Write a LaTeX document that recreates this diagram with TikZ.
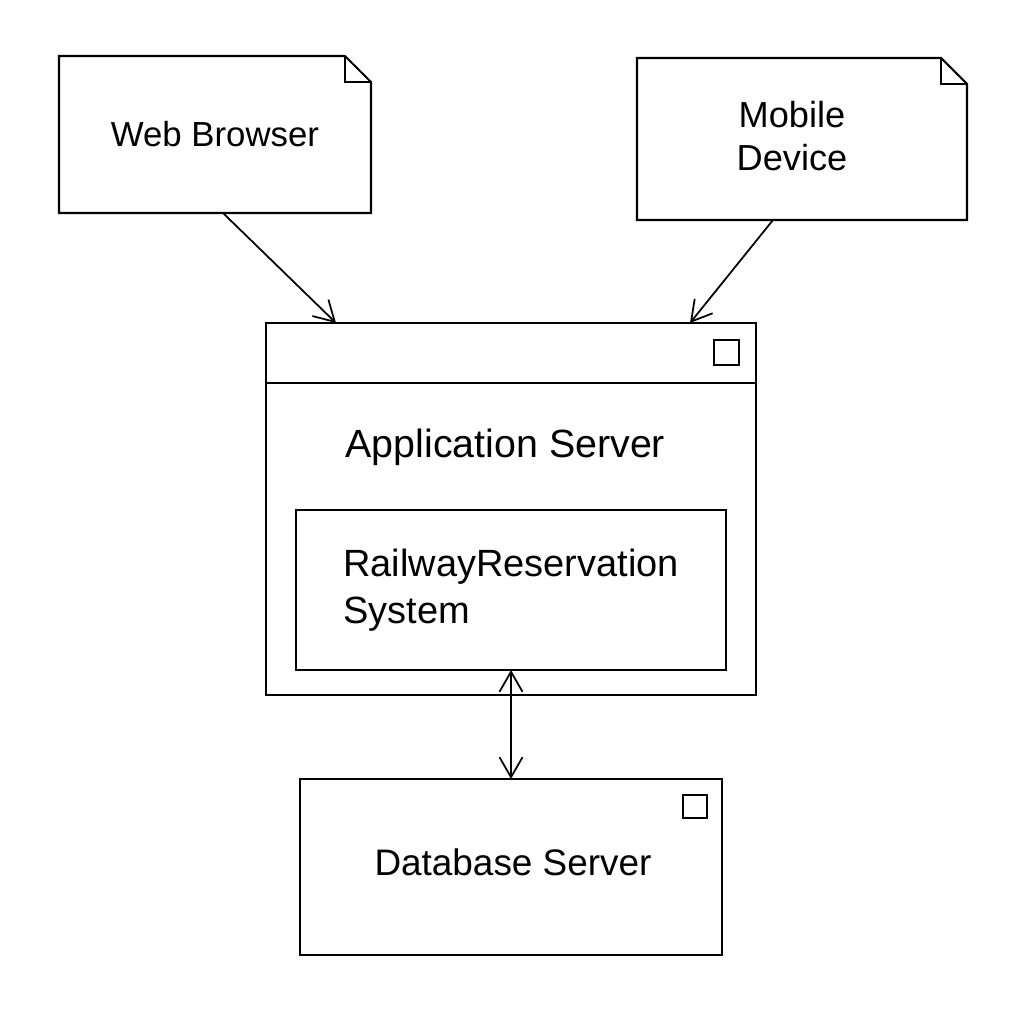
\documentclass[tikz,border=0pt]{standalone}
\usepackage{fontspec}
\setmainfont{Liberation Sans}
\usetikzlibrary{arrows.meta,positioning,calc}

\begin{document}
\begin{tikzpicture}[scale=1.0,
    box/.style={draw,line width=0.6pt,inner sep=0pt,outer sep=0pt},
    note/.style={inner sep=0pt,outer sep=0pt},
    link/.style={line width=0.5pt,-{Straight Barb[length=2.0mm,width=2.3mm]}},
    label/.style={font=\fontsize{10.3}{12}\selectfont}]
  \useasboundingbox (0.0,0.0) rectangle (10.24,10.24);

  % Web browser note
  \node[note,font=\fontsize{9.9}{12}\selectfont,minimum width=3.12cm,minimum height=1.57cm] (web) at (2.15,8.895) {Web Browser};
  \draw[line width=0.6pt] (web.south west) -- (web.north west) -- ([xshift=-0.26cm]web.north east)
       -- ([yshift=-0.26cm]web.north east) -- (web.south east) -- cycle;
  \draw[line width=0.6pt] ([xshift=-0.26cm]web.north east) |- ([yshift=-0.26cm]web.north east);

  % Mobile device note
  \node[note,minimum width=3.30cm,minimum height=1.62cm] (mobile) at (8.02,8.85) {};
  \node[align=center,font=\fontsize{10.3}{12.4}\selectfont] (mobiletext) at (7.92,8.88) {Mobile\\Device};
  \draw[line width=0.6pt] (mobile.south west) -- (mobile.north west) -- ([xshift=-0.26cm]mobile.north east)
       -- ([yshift=-0.26cm]mobile.north east) -- (mobile.south east) -- cycle;
  \draw[line width=0.6pt] ([xshift=-0.26cm]mobile.north east) |- ([yshift=-0.26cm]mobile.north east);

  % Application server
  \node[box,minimum width=4.90cm,minimum height=3.72cm] (app) at (5.11,5.15) {};
  \draw[line width=0.6pt] ([yshift=-0.60cm]app.north west) -- ([yshift=-0.60cm]app.north east); % header
  \node[box,minimum size=0.25cm] (appicon) at (7.265,6.715) {};
  \node[anchor=base west,inner xsep=0pt,font=\fontsize{11.2}{12}\selectfont] (apptitle) at (3.45,5.66) {Application Server};

  % Railway reservation component
  \node[box,line width=0.5pt,align=left,minimum width=4.30cm,minimum height=1.60cm,
        font=\fontsize{10.8}{13.4}\selectfont] (rrs) at (5.11,4.34) {RailwayReservation\\System};

  % Database server
  \node[box,minimum width=4.22cm,minimum height=1.76cm] (db) at (5.11,1.57) {};
  \node[font=\fontsize{10.5}{12}\selectfont] (dbtext) at (5.13,1.62) {Database Server};
  \node[box,minimum size=0.235cm] (dbicon) at (6.95,2.175) {};

  % connections
  \draw[link] ([xshift=0.08cm]web.south) -- ([xshift=-1.75cm]app.north);
  \draw[link] ([xshift=-0.29cm]mobile.south) -- ([xshift=1.79cm]app.north);
  \draw[link,{Straight Barb[length=2.0mm,width=2.3mm]}-{Straight Barb[length=2.0mm,width=2.3mm]}] (rrs.south) -- (db.north);
\end{tikzpicture}
\end{document}
